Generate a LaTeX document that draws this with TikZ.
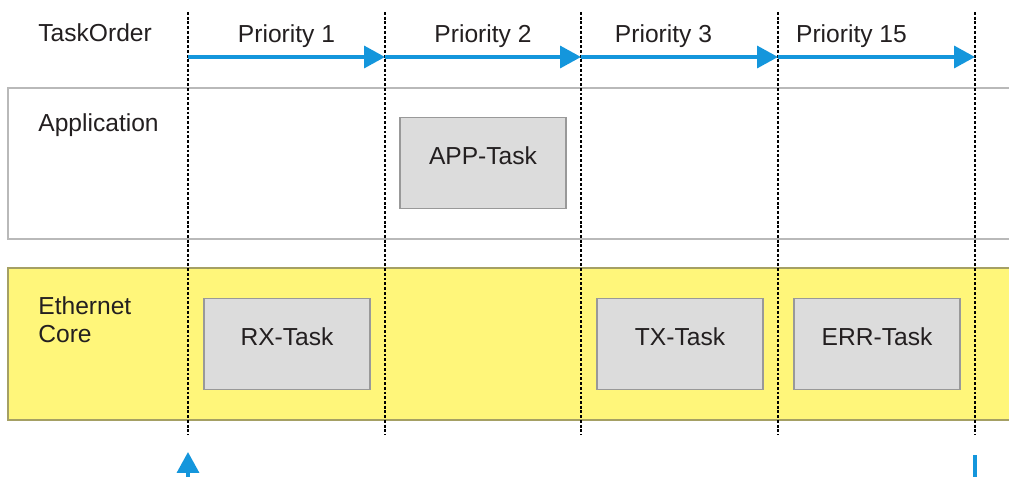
\documentclass[tikz,border=0pt]{standalone}
\usepackage{fontspec}
\setmainfont{Liberation Sans}
\usetikzlibrary{positioning,calc,arrows.meta}
\definecolor{flowblue}{RGB}{20,150,220}
\definecolor{coreyellow}{RGB}{255,246,122}
\definecolor{coreline}{RGB}{165,160,100}
\definecolor{taskgray}{RGB}{220,220,220}
\definecolor{inkblack}{RGB}{35,31,32}
\tikzstyle{task} = [ draw=gray!80, fill=taskgray, line width=0.6pt, rectangle, minimum width = 3.32cm, minimum height = 1.82cm, text depth = 0.3cm, text=inkblack]
\tikzstyle{label} = [ anchor=west, inner sep=0pt, text=inkblack, align=left]
\tikzstyle{slot} = [ draw=black, line width=1.1pt, dash pattern=on 1.6pt off 1.1pt]
\tikzstyle{order} = [ -{Triangle[length=0.42cm,width=0.44cm]}, draw=flowblue, line width=2pt]

\begin{document}
\begin{tikzpicture}[x=0.02cm, y=-0.02cm, font=\fontsize{14}{17}\selectfont]
	\useasboundingbox (0,0) rectangle (1009,477);

	% bands
	\draw[gray!55, line width=0.8pt] (1012,88) -- (8,88) -- (8,239) -- (1012,239);
	\fill[coreyellow] (8,268) rectangle (1012,420);
	\draw[coreline, line width=0.8pt] (1012,268) -- (8,268) -- (8,420) -- (1012,420);

	\node[label] (order) at ( 38, 33 ) { TaskOrder };
	\node[label] (appl) at ( 38, 125 ) { Application };
	\node[label] (core) at ( 38, 320 ) { Ethernet\\[-1pt]Core };

	\node[task] (app) at ( 483, 163 ) { APP-Task };
	\node[task] (rx) at ( 287, 344 ) { RX-Task };
	\node[task] (tx) at ( 680, 344 ) { TX-Task };
	\node[task] (err) at ( 877, 344 ) { ERR-Task };

	% slot borders
	\coordinate (s0) at ( 188, 12 );
	\coordinate (s1) at ( 385, 12 );
	\coordinate (s2) at ( 581, 12 );
	\coordinate (s3) at ( 778, 12 );
	\coordinate (s4) at ( 975, 12 );
	\coordinate (e0) at ( 188, 435 );
	\coordinate (e1) at ( 385, 435 );
	\coordinate (e2) at ( 581, 435 );
	\coordinate (e3) at ( 778, 435 );
	\coordinate (e4) at ( 975, 435 );
	\foreach \i in {0,...,4}
		\draw[slot] (s\i) -- (e\i);

	\coordinate (p0) at ( 188, 57 );
	\coordinate (p1) at ( 385, 57 );
	\coordinate (p2) at ( 581, 57 );
	\coordinate (p3) at ( 778, 57 );
	\coordinate (p4) at ( 975, 57 );
	\draw[order] (p0) -- (p1) node[midway, above, yshift=0.03cm, text=inkblack]{Priority 1};
	\draw[order] (p1) -- (p2) node[midway, above, yshift=0.03cm, text=inkblack]{Priority 2};
	\draw[order] (p2) -- (p3) node[midway, above, yshift=0.03cm, xshift=-0.32cm, text=inkblack]{Priority 3};
	\draw[order] (p3) -- (p4) node[midway, above, yshift=0.03cm, xshift=-0.5cm, text=inkblack]{Priority 15};

	% start and end
	\coordinate (start) at ( 188, 480 );
	\coordinate (go) at ( 188, 452 );
	\coordinate (stop) at ( 975, 480 );
	\coordinate (halt) at ( 975, 455 );
	\draw[order] (start) -- (go);
	\draw[draw=flowblue, line width=2pt] (stop) -- (halt);
\end{tikzpicture}
\end{document}
